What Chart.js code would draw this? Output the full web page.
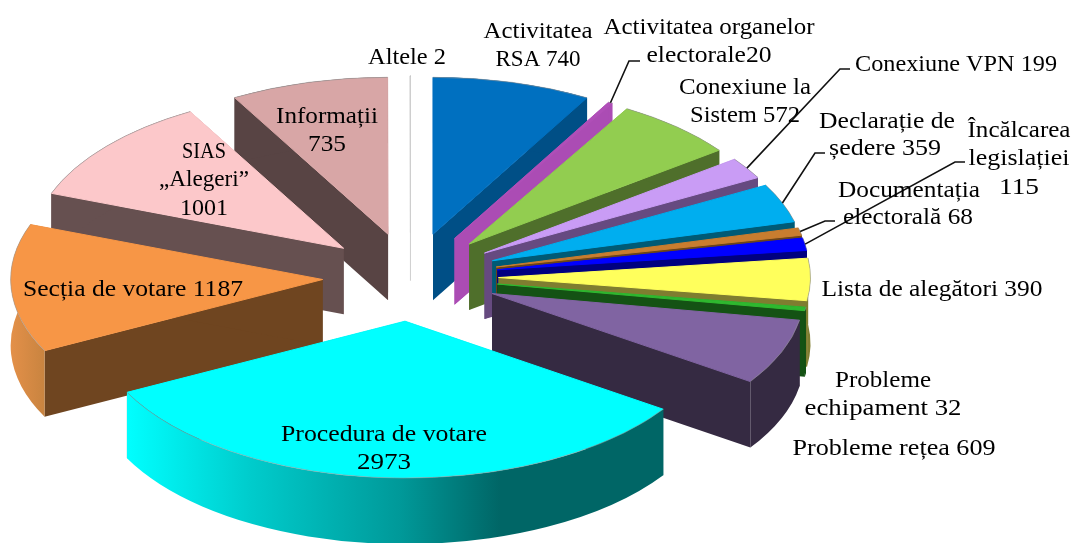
<!DOCTYPE html>
<html>
<head>
<meta charset="utf-8">
<style>html,body{margin:0;padding:0;background:#fff;overflow:hidden}canvas{display:block}</style>
<script src="https://cdn.jsdelivr.net/npm/chart.js@4"></script>
</head>
<body>
<canvas id="c" width="1073" height="543"></canvas>
<script>
const categories = ["Activitatea RSA","Activitatea organelor electorale","Conexiune la Sistem","Conexiune VPN","Declarație de ședere","Documentația electorală","Încălcarea legislației","Lista de alegători","Probleme echipament","Probleme rețea","Procedura de votare","Secția de votare","SIAS „Alegeri”","Informații","Altele"];
const values = [740,20,572,199,359,68,115,390,32,609,2973,1187,1001,735,2];
const topColors = ["#0070c0","#b04fb8","#92cd50","#c99cf5","#00aeef","#c87d2f","#0000ff","#ffff5c","#2fb82f","#8064a2","#00ffff","#f79646","#fcc8ca","#d8a6a6","#cfcfcf"];
const sideColors = ["#004f86","#ab4cb4","#4f6f2b","#664a80","#005a75","#6b4418","#000080","#7f7d30","#145214","#352a42","#006666","#6f4520","#665050","#584444","#cfcfcf"];
const wallStops = {
  10: [[127,"#00ffff"],[250,"#00cccc"],[400,"#009999"],[500,"#006666"],[663,"#006666"]],
  11: [[5,"#e8924a"],[44,"#c98440"]]
};
const labelLines = [
  "Altele 2","Activitatea","RSA 740","Activitatea organelor","electorale20",
  "Conexiune la","Sistem 572","Conexiune VPN 199","Declarație de","ședere 359",
  "Încălcarea","legislației","115","Documentația","electorală 68",
  "Lista de alegători 390","Probleme","echipament 32","Probleme rețea 609",
  "Procedura de votare","2973","Secția de votare 1187","SIAS","„Alegeri”","1001","Informații","735"
];
const labelAnchors = [
  [407,58],[538,32],[538,60],[709,28],[709,56],
  [745,88],[745,116],[956,65],[887,122],[885,149],
  [1019,131],[1019,159],[1019,188],[909,191],[908,218],
  [932,290],[883,381],[883,409],[894,449],
  [384,435],[384,463],[133,290],[204,152],[204,180],[204,209],[327,117],[327,145]
];
const labelWidths = [78,109,85,211,125,132,110,202,136,112,103,101,40,142,130,221,96,157,203,206,54,220,44,90,48,102,38];
const leaders = {1:[[629,61],[640,61]],3:[[840,69],[850,69]],4:[[815,153],[825,153]],5:[[825,221],[835,221]],6:[[955,162],[965,162]]};

const CX = 410.5, CY = 277, K = 0.503, RADIUS = 312, EXPLODE = 88, DEPTH = 66;

function wallFill(ctx, i) {
  const stops = wallStops[i];
  if (!stops) return sideColors[i];
  const x0 = stops[0][0], x1 = stops[stops.length-1][0];
  const g = ctx.createLinearGradient(x0,0,x1,0);
  stops.forEach(s => g.addColorStop((s[0]-x0)/(x1-x0), s[1]));
  return g;
}

const pie3d = {
  id: "pie3d",
  beforeDatasetsDraw(chart) {
    const ctx = chart.ctx, arcs = chart.getDatasetMeta(0).data;
    const mid = a => (a.startAngle+a.endAngle)/2;
    const order = arcs.map((a,i)=>i).sort((p,q)=>Math.sin(mid(arcs[p]))-Math.sin(mid(arcs[q])));
    order.forEach(i => {
      const a = arcs[i], a0 = a.startAngle, a1 = a.endAngle, m = mid(a), R = a.outerRadius;
      const cx = CX + Math.cos(m)*EXPLODE, cy = CY + Math.sin(m)*EXPLODE*K;
      const pt = t => [cx + Math.cos(t)*R, cy + Math.sin(t)*R*K];
      // radial cut faces
      [a0,a1].forEach(t => {
        const p = pt(t);
        ctx.beginPath();
        ctx.moveTo(cx,cy); ctx.lineTo(p[0],p[1]); ctx.lineTo(p[0],p[1]+DEPTH); ctx.lineTo(cx,cy+DEPTH); ctx.closePath();
        ctx.fillStyle = i === 14 ? "rgba(0,0,0,0)" : sideColors[i];
        ctx.fill();
      });
      // outer wall
      ctx.beginPath();
      ctx.ellipse(cx,cy,R,R*K,0,a0,a1);
      ctx.ellipse(cx,cy+DEPTH,R,R*K,0,a1,a0,true);
      ctx.closePath();
      ctx.fillStyle = wallFill(ctx,i);
      ctx.fill();
      // top surface, drawn by the library's arc element
      ctx.save();
      ctx.translate(cx,cy); ctx.scale(1,K); ctx.translate(-a.x,-a.y);
      a.draw(ctx);
      ctx.restore();
      // edges
      const p0 = pt(a0), p1 = pt(a1);
      ctx.lineWidth = 1; ctx.strokeStyle = topColors[i];
      ctx.beginPath(); ctx.moveTo(p0[0],p0[1]); ctx.lineTo(cx,cy); ctx.lineTo(p1[0],p1[1]);
      if (a1 - a0 < 0.01) ctx.lineTo(cx,cy+DEPTH-18);
      ctx.stroke();
      ctx.strokeStyle = "rgba(150,150,150,0.55)";
      ctx.beginPath(); ctx.ellipse(cx,cy,R,R*K,0,a0,a1); ctx.stroke();
    });
    return false;
  },
  afterDraw(chart) {
    const ctx = chart.ctx, arcs = chart.getDatasetMeta(0).data;
    ctx.save();
    ctx.strokeStyle = "#111"; ctx.lineWidth = 1.6;
    Object.keys(leaders).forEach(k => {
      const a = arcs[k], m = (a.startAngle+a.endAngle)/2, r = a.outerRadius + EXPLODE;
      ctx.beginPath();
      ctx.moveTo(CX + Math.cos(m)*r, CY + Math.sin(m)*r*K);
      leaders[k].forEach(p => ctx.lineTo(p[0],p[1]));
      ctx.stroke();
    });
    ctx.fillStyle = "#000";
    ctx.font = '24px "Liberation Serif"';
    ctx.textAlign = "left"; ctx.textBaseline = "middle";
    labelLines.forEach((t,i) => {
      const [x,y] = labelAnchors[i], w = labelWidths[i];
      ctx.save();
      const mw = ctx.measureText(t).width;
      ctx.translate(x - w/2, y);
      ctx.scale(w/mw, 1);
      ctx.fillText(t,0,0);
      ctx.restore();
    });
    ctx.restore();
  }
};

new Chart(document.getElementById("c"), {
  type: "pie",
  data: { labels: categories, datasets: [{ data: values, backgroundColor: topColors, borderWidth: 0 }] },
  options: {
    responsive: false, animation: false, radius: RADIUS,
    plugins: { legend: { display: false }, tooltip: { enabled: false } }
  },
  plugins: [pie3d]
});
</script>
</body>
</html>
